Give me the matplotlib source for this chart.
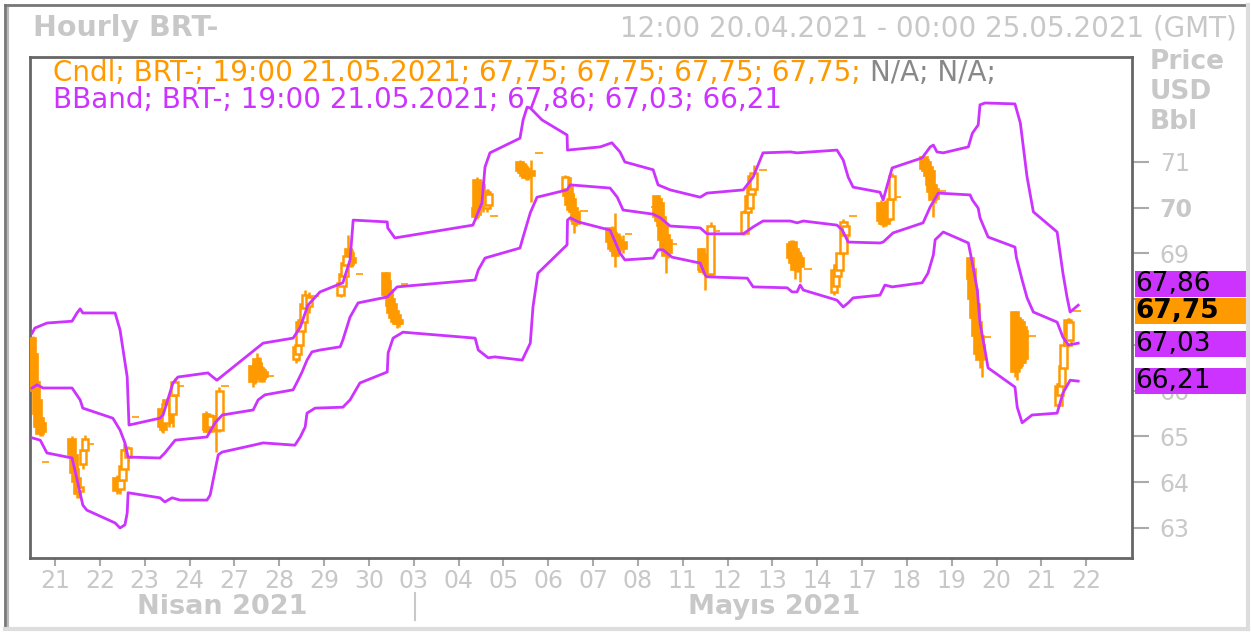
import numpy as np
import matplotlib.pyplot as plt
import matplotlib.transforms as mtransforms
from matplotlib.lines import Line2D

# ---- axis labels -------------------------------------------------------
day_labels = ['21', '22', '23', '24', '27', '28', '29', '30', '03', '04', '05', '06',
              '07', '08', '11', '12', '13', '14', '17', '18', '19', '20', '21', '22']
y_ticks = [63, 64, 65, 66, 67, 68, 69, 70, 71]
y_ticklabels = ['63', '64', '65', '66', '', '', '69', '70', '71']  # 67, 68 hidden under the boxes

# ---- hourly candles (day index, hour, O, H, L, C) ----------------------
c_day = ([-1] * 7 + [0] * 8 + [1] * 8 + [2] * 8 + [3] * 8 + [4] * 8 + [5] * 8 + [6] * 8 + [7] * 9
         + [9] * 8 + [10] * 7 + [11] * 8 + [12] * 8 + [13] * 9 + [14] * 6 + [15] * 6 + [16] * 7
         + [17] * 7 + [18] * 7 + [19] * 8 + [20] * 8 + [21] * 7 + [22] * 7)
c_hour = [12, 13, 14, 15, 16, 17, 19,
          9, 10, 11, 12, 13, 15, 16, 19,
          9, 10, 11, 12, 13, 14, 15, 19,
          9, 10, 11, 12, 13, 15, 16, 19,
          9, 10, 11, 12, 13, 14, 16, 19,
          10, 11, 12, 13, 14, 15, 16, 19,
          9, 10, 11, 12, 13, 14, 16, 19,
          9, 10, 11, 12, 13, 14, 15, 19,
          9, 10, 11, 12, 13, 14, 15, 16, 19,
          9, 10, 11, 12, 13, 15, 16, 19,
          9, 10, 11, 12, 13, 15, 19,
          9, 10, 11, 12, 13, 14, 15, 19,
          9, 10, 11, 12, 13, 14, 16, 19,
          9, 10, 11, 12, 13, 14, 15, 16, 19,
          10, 11, 12, 14, 15, 18,
          9, 11, 12, 13, 14, 19,
          10, 11, 12, 13, 14, 15, 19,
          9, 10, 11, 12, 14, 15, 19,
          10, 11, 12, 13, 15, 16, 19,
          9, 10, 11, 12, 13, 14, 15, 19,
          10, 11, 12, 13, 14, 15, 16, 19,
          10, 11, 12, 13, 14, 15, 19,
          9, 10, 11, 12, 14, 15, 19]
c_open = [67.15, 66.80, 66.20, 65.80, 65.40, 65.30, 64.44,
          64.95, 64.60, 64.30, 64.10, 63.80, 64.40, 64.70, 64.84,
          64.10, 63.95, 63.85, 64.05, 64.30, 64.70, 64.55, 65.43,
          65.60, 65.50, 65.30, 65.80, 65.50, 65.50, 65.90, 66.10,
          65.50, 65.40, 65.20, 65.45, 65.30, 65.25, 65.14, 66.10,
          66.55, 66.50, 66.70, 66.60, 66.50, 66.45, 66.40, 66.32,
          66.70, 66.80, 67.00, 67.30, 67.50, 67.80, 67.85, 68.07,
          68.10, 68.30, 68.50, 68.75, 69.10, 69.00, 68.90, 68.55,
          68.57, 68.40, 68.20, 68.00, 67.90, 67.75, 67.65, 67.55, 68.33,
          70.00, 70.60, 70.55, 70.50, 70.30, 70.00, 70.05, 69.82,
          71.00, 70.95, 70.90, 70.85, 70.80, 70.80, 71.20,
          70.40, 70.65, 70.45, 70.30, 70.20, 70.00, 69.90, 69.93,
          69.55, 69.50, 69.45, 69.40, 69.35, 69.30, 69.25, 69.43,
          70.02, 70.25, 70.20, 70.10, 69.80, 69.60, 69.40, 69.30, 69.21,
          69.10, 68.95, 68.90, 68.60, 68.55, 69.49,
          69.45, 69.90, 70.00, 70.30, 70.40, 70.83,
          69.20, 69.25, 69.10, 69.00, 68.95, 68.90, 68.66,
          68.16, 68.30, 68.50, 68.65, 69.00, 69.40, 69.82,
          70.10, 70.00, 70.10, 69.95, 69.75, 70.20, 70.23,
          71.10, 71.05, 71.00, 70.90, 70.80, 70.50, 70.40, 70.37,
          68.90, 68.66, 68.20, 67.90, 67.50, 67.20, 67.00, 67.17,
          67.72, 67.60, 67.55, 67.50, 67.40, 67.30, 67.20,
          65.69, 65.90, 66.10, 66.50, 67.00, 67.10, 67.75]
c_high = [67.20, 66.85, 66.30, 65.90, 65.50, 65.35, 64.44,
          65.00, 64.70, 64.45, 64.20, 64.00, 64.80, 65.03, 64.84,
          64.15, 64.05, 64.10, 64.40, 64.86, 64.80, 64.80, 65.43,
          65.65, 65.55, 65.80, 65.85, 65.60, 66.00, 66.28, 66.10,
          65.55, 65.45, 65.50, 65.50, 65.35, 65.30, 66.08, 66.10,
          66.60, 66.65, 66.83, 66.74, 66.60, 66.55, 66.50, 66.32,
          67.00, 67.10, 67.60, 67.60, 68.00, 68.20, 68.15, 68.07,
          68.40, 68.60, 68.85, 69.00, 69.40, 69.15, 69.10, 68.55,
          68.60, 68.45, 68.30, 68.10, 68.00, 67.80, 67.70, 67.60, 68.33,
          70.10, 70.67, 70.60, 70.60, 70.45, 70.40, 70.40, 69.82,
          71.05, 71.00, 70.95, 70.95, 70.90, 71.04, 71.20,
          70.72, 70.70, 70.55, 70.40, 70.30, 70.10, 69.95, 69.93,
          69.58, 69.60, 69.55, 69.89, 69.45, 69.45, 69.40, 69.43,
          70.02, 70.28, 70.25, 70.20, 69.90, 69.70, 69.50, 69.40, 69.21,
          69.12, 69.00, 69.00, 69.00, 69.69, 69.49,
          69.95, 70.30, 70.50, 70.76, 70.93, 70.83,
          69.30, 69.30, 69.20, 69.10, 69.05, 69.00, 68.66,
          68.70, 68.70, 68.80, 69.05, 69.75, 69.70, 69.82,
          70.17, 70.10, 70.17, 70.05, 70.25, 70.76, 70.23,
          71.12, 71.10, 71.05, 70.95, 70.85, 70.60, 70.50, 70.37,
          68.92, 68.70, 68.30, 68.00, 67.60, 67.30, 67.10, 67.17,
          67.75, 67.70, 67.60, 67.55, 67.50, 67.40, 67.20,
          66.17, 66.20, 66.60, 67.10, 67.60, 67.60, 67.75]
c_low = [66.05, 65.90, 65.40, 65.15, 65.00, 65.00, 64.44,
         64.50, 64.10, 63.90, 63.66, 63.66, 64.30, 64.60, 64.84,
         63.75, 63.77, 63.75, 63.95, 64.20, 64.40, 64.45, 65.43,
         65.10, 65.08, 65.20, 65.40, 65.20, 65.20, 65.80, 66.10,
         65.10, 65.08, 65.10, 65.10, 65.10, 64.66, 65.10, 66.10,
         66.08, 66.15, 66.25, 66.20, 66.20, 66.19, 66.20, 66.32,
         66.60, 66.65, 66.90, 67.10, 67.40, 67.60, 67.70, 68.07,
         68.05, 68.25, 68.40, 68.60, 68.75, 68.70, 68.70, 68.55,
         68.00, 67.95, 67.80, 67.60, 67.55, 67.45, 67.37, 67.40, 68.33,
         69.73, 69.75, 69.90, 69.95, 69.90, 69.90, 70.00, 69.82,
         70.75, 70.70, 70.65, 70.60, 70.60, 70.13, 71.20,
         70.35, 70.20, 70.00, 69.90, 69.80, 69.45, 69.60, 69.93,
         69.20, 69.00, 69.00, 68.70, 69.00, 69.10, 69.00, 69.43,
         70.02, 69.70, 69.60, 69.50, 69.20, 69.00, 68.57, 68.90, 69.21,
         68.60, 68.55, 68.20, 68.50, 68.49, 69.49,
         69.40, 69.85, 69.95, 70.25, 70.30, 70.83,
         68.80, 68.70, 68.45, 68.60, 68.60, 68.38, 68.66,
         68.10, 68.20, 68.40, 68.60, 68.95, 69.30, 69.82,
         69.62, 69.58, 69.60, 69.60, 69.70, 70.15, 70.23,
         70.80, 70.75, 70.60, 70.40, 70.25, 69.80, 70.10, 70.37,
         68.40, 67.90, 67.50, 67.10, 66.70, 66.50, 66.30, 67.17,
         66.30, 66.23, 66.40, 66.50, 66.60, 66.60, 67.20,
         65.65, 65.80, 66.00, 66.40, 66.95, 67.04, 67.75]
c_close = [66.10, 66.00, 65.50, 65.20, 65.05, 65.10, 64.44,
           64.60, 64.20, 64.00, 63.75, 63.90, 64.70, 64.95, 64.84,
           63.80, 63.85, 64.05, 64.35, 64.70, 64.55, 64.75, 65.43,
           65.20, 65.15, 65.70, 65.50, 65.30, 65.90, 66.20, 66.10,
           65.15, 65.10, 65.45, 65.15, 65.15, 65.14, 66.00, 66.10,
           66.20, 66.30, 66.35, 66.30, 66.25, 66.25, 66.30, 66.32,
           66.95, 67.00, 67.50, 67.55, 67.90, 68.10, 68.05, 68.07,
           68.35, 68.55, 68.80, 68.95, 68.80, 68.75, 68.80, 68.55,
           68.10, 68.05, 67.85, 67.70, 67.60, 67.50, 67.45, 67.45, 68.33,
           69.80, 69.85, 70.00, 70.05, 70.00, 70.35, 70.30, 69.82,
           70.80, 70.75, 70.70, 70.65, 70.70, 70.70, 71.20,
           70.67, 70.25, 70.05, 69.95, 69.90, 69.70, 69.65, 69.93,
           69.25, 69.10, 69.05, 68.95, 69.05, 69.15, 69.10, 69.43,
           70.02, 69.80, 69.70, 69.60, 69.30, 69.10, 68.95, 69.00, 69.21,
           68.65, 68.60, 68.60, 68.90, 69.60, 69.49,
           69.90, 70.25, 70.45, 70.70, 70.76, 70.83,
           68.90, 68.80, 68.65, 68.70, 68.75, 68.70, 68.66,
           68.65, 68.60, 68.75, 69.00, 69.69, 69.60, 69.82,
           69.70, 69.65, 69.70, 69.65, 70.20, 70.70, 70.23,
           70.85, 70.80, 70.70, 70.50, 70.35, 70.17, 70.20, 70.37,
           68.45, 68.00, 67.60, 67.20, 66.80, 66.67, 66.70, 67.17,
           66.40, 66.50, 66.55, 66.60, 66.80, 66.70, 67.20,
           66.10, 66.15, 66.55, 67.00, 67.55, 67.50, 67.75]

# ---- Bollinger bands (time in days, price) -----------------------------
up_t = [-0.51, -0.45, -0.18, 0.38, 0.49, 0.56, 0.62, 1.34, 1.45, 1.61, 1.65, 2.34, 2.41, 2.63,
        2.74, 3.41, 3.52, 3.61, 4.64, 5.31, 5.47, 5.64, 5.91, 6.42, 6.58, 6.65, 7.41, 7.42,
        7.58, 9.32, 9.52, 9.59, 9.70, 10.37, 10.44, 10.53, 10.60, 10.86, 11.42, 11.43, 12.16,
        12.42, 12.60, 12.71, 13.34, 13.45, 13.72, 14.39, 14.54, 15.35, 15.57, 15.79, 16.40,
        16.55, 17.44, 17.58, 17.69, 17.80, 18.40, 18.47, 18.67, 19.34, 19.52, 19.59, 19.67,
        19.81, 20.37, 20.46, 20.59, 20.63, 20.74, 21.41, 21.53, 21.68, 21.82, 22.35, 22.48,
        22.57, 22.64, 22.82]
up_v = [67.26, 67.37, 67.48, 67.52, 67.70, 67.79, 67.70, 67.70, 67.33, 66.30, 65.25, 65.40,
        65.47, 66.17, 66.30, 66.39, 66.30, 66.23, 67.04, 67.15, 67.39, 67.87, 68.16, 68.36,
        68.86, 69.73, 69.69, 69.56, 69.34, 69.62, 70.10, 70.89, 71.20, 71.52, 71.92, 72.20,
        72.18, 71.92, 71.59, 71.26, 71.33, 71.42, 71.22, 71.00, 70.83, 70.50, 70.39, 70.23,
        70.32, 70.39, 70.67, 71.20, 71.22, 71.20, 71.26, 71.04, 70.67, 70.45, 70.34, 70.17,
        70.87, 71.09, 71.33, 71.37, 71.22, 71.20, 71.33, 71.63, 71.81, 72.25, 72.29, 72.27,
        71.85, 70.67, 69.91, 69.47, 68.57, 68.05, 67.72, 67.87]
mid_t = [-0.51, -0.40, -0.27, 0.38, 0.56, 0.62, 1.29, 1.45, 1.56, 1.63, 2.34, 2.45, 2.68,
         3.39, 3.57, 3.73, 4.42, 4.53, 4.68, 5.31, 5.42, 5.51, 5.62, 5.73, 5.91, 6.36, 6.42,
         6.58, 6.76, 7.41, 7.63, 9.37, 9.44, 9.59, 10.37, 10.44, 10.60, 10.75, 11.42, 11.49,
         12.38, 12.54, 12.67, 13.34, 13.50, 13.72, 14.39, 14.54, 15.35, 15.57, 15.79, 16.40,
         16.55, 16.69, 17.44, 17.56, 17.69, 18.40, 18.47, 18.69, 19.36, 19.52, 19.70, 20.41,
         20.46, 20.59, 20.63, 20.81, 21.41, 21.44, 21.57, 21.68, 21.82, 22.35, 22.48, 22.60,
         22.82]
mid_v = [66.06, 66.13, 66.06, 66.06, 65.80, 65.62, 65.40, 65.14, 64.86, 64.55, 64.53, 64.64,
         64.92, 64.99, 65.30, 65.47, 65.58, 65.80, 65.91, 66.02, 66.23, 66.41, 66.67, 66.85,
         66.89, 66.96, 67.11, 67.61, 67.92, 68.05, 68.27, 68.42, 68.64, 68.90, 69.12, 69.36,
         69.89, 70.23, 70.39, 70.50, 70.43, 70.23, 69.95, 69.86, 69.78, 69.60, 69.56, 69.43,
         69.43, 69.58, 69.71, 69.71, 69.67, 69.71, 69.62, 69.51, 69.25, 69.23, 69.25, 69.45,
         69.67, 70.02, 70.32, 70.28, 70.17, 69.99, 69.78, 69.36, 69.14, 68.92, 68.42, 68.03,
         67.72, 67.50, 67.17, 67.00, 67.04]
low_t = [-0.51, -0.33, -0.18, 0.38, 0.51, 0.62, 0.71, 1.34, 1.45, 1.56, 1.61, 1.63, 2.34,
         2.45, 2.61, 2.79, 3.39, 3.46, 3.64, 3.73, 4.42, 4.64, 5.35, 5.47, 5.58, 5.62, 5.80,
         6.42, 6.58, 6.80, 7.41, 7.43, 7.54, 7.76, 9.37, 9.44, 9.66, 9.81, 10.42, 10.60,
         10.66, 10.77, 11.42, 11.43, 11.49, 11.67, 12.38, 12.60, 12.71, 13.34, 13.45, 13.56,
         13.76, 14.39, 14.50, 14.54, 15.44, 15.57, 16.33, 16.44, 16.55, 16.62, 16.69, 17.44,
         17.58, 17.69, 17.80, 18.40, 18.51, 18.67, 19.34, 19.47, 19.59, 19.63, 19.81, 20.37,
         20.46, 20.57, 20.63, 20.74, 20.81, 21.41, 21.46, 21.57, 21.79, 22.35, 22.48, 22.64,
         22.82]
low_v = [64.97, 64.92, 64.64, 64.53, 63.98, 63.50, 63.39, 63.11, 63.00, 63.07, 63.33, 63.77,
         63.66, 63.57, 63.66, 63.61, 63.61, 63.72, 64.60, 64.66, 64.81, 64.86, 64.81, 64.99,
         65.21, 65.51, 65.62, 65.64, 65.80, 66.17, 66.41, 66.83, 67.15, 67.28, 67.15, 66.89,
         66.72, 66.74, 66.67, 67.04, 67.83, 68.57, 69.19, 69.73, 69.78, 69.69, 69.51, 69.01,
         68.86, 68.90, 69.08, 69.08, 68.92, 68.79, 68.53, 68.49, 68.46, 68.27, 68.25, 68.16,
         68.16, 68.31, 68.20, 67.98, 67.83, 67.92, 68.03, 68.09, 68.31, 68.27, 68.36, 68.57,
         68.97, 69.30, 69.47, 69.23, 68.79, 68.20, 67.48, 66.89, 66.50, 66.08, 65.64, 65.30,
         65.47, 65.51, 65.95, 66.23, 66.21]

last_close = 67.75
band_last = [67.86, 67.03, 66.21]

ORANGE = '#ff9900'
PURPLE = '#cc33ff'
GREY = '#c8c8c8'

W, H = 1251, 632
fig = plt.figure(figsize=(W / 100, H / 100), dpi=100)


def fx(px):
    return px / W


def fy(py):
    return 1 - py / H


ax = fig.add_axes([fx(30), fy(558), fx(1132) - fx(30), fy(57) - fy(558)])
ax.set_xlim(-0.558, 24.02)
ax.set_ylim(62.344, 73.295)

# candles
t = np.array(c_day) + np.array(c_hour) / 24.0
o = np.array(c_open)
c = np.array(c_close)
hi = np.array(c_high)
lo = np.array(c_low)
up = c > o
ax.vlines(t, lo, hi, color=ORANGE, lw=1.8, zorder=2)
ax.bar(t[~up], (o - c)[~up], bottom=c[~up], width=0.17, color=ORANGE,
       edgecolor=ORANGE, lw=1.2, zorder=3)
ax.bar(t[up], (c - o)[up], bottom=o[up], width=0.15, facecolor='white',
       edgecolor=ORANGE, lw=1.8, zorder=3)

# bands
for bt, bv in [(up_t, up_v), (mid_t, mid_v), (low_t, low_v)]:
    ax.plot(bt, bv, color=PURPLE, lw=2.0, zorder=5)

for s in ax.spines.values():
    s.set_color('#666666')
    s.set_linewidth(2)

ax.set_xticks(range(len(day_labels)))
ax.set_xticklabels(day_labels)
ax.yaxis.tick_right()
ax.set_yticks(y_ticks)
ax.set_yticklabels(y_ticklabels)
ax.tick_params(axis='x', colors='#aaaaaa', labelcolor=GREY, labelsize=17, length=6, width=1.5, pad=2)
ax.tick_params(axis='y', colors='#aaaaaa', labelcolor=GREY, labelsize=17, length=12, width=1.5, pad=8)
for lab in ax.get_yticklabels():
    if lab.get_text() == '70':
        lab.set_fontweight('bold')

# value boxes on the right
tr = mtransforms.blended_transform_factory(fig.transFigure, ax.transData)
box_h = 26 / 45.75
vals = [(band_last[0], PURPLE, False), (last_close, ORANGE, True),
        (band_last[1], PURPLE, False), (band_last[2], PURPLE, False)]
ys = [max(band_last[0], last_close + box_h + 0.02), last_close,
      min(band_last[1], last_close - box_h - 0.02), band_last[2]]
for (v, col, bold), yc in zip(vals, ys):
    ax.add_patch(plt.Rectangle((fx(1135), yc - box_h / 2), fx(1247) - fx(1135), box_h,
                               transform=tr, facecolor=col, edgecolor='none',
                               clip_on=False, zorder=10))
    ax.text(fx(1135), yc, f'{v:.2f}'.replace('.', ','), transform=tr, ha='left', va='center',
            fontsize=19, color='black', fontweight='bold' if bold else 'normal',
            clip_on=False, zorder=11)

# texts
fig.text(fx(33), fy(28), 'Hourly BRT-', color=GREY, fontsize=20.5, fontweight='bold', va='center')
fig.text(fx(1237), fy(28), '12:00 20.04.2021 - 00:00 25.05.2021 (GMT)', color=GREY,
         fontsize=20, ha='right', va='center')
for i, s in enumerate(['Price', 'USD', 'Bbl']):
    fig.text(fx(1150), fy(62 + 30 * i), s, color=GREY, fontsize=19, fontweight='bold', va='center')

cndl_a = 'Cndl; BRT-; 19:00 21.05.2021; 67,75; 67,75; 67,75; 67,75; '
t1 = fig.text(fx(53), fy(73), cndl_a, color=ORANGE, fontsize=20, va='center')
fig.canvas.draw()
bb = t1.get_window_extent()
fig.text(bb.x1 / W, fy(73), 'N/A; N/A;', color='#888888', fontsize=20, va='center')
fig.text(fx(53), fy(100), 'BBand; BRT-; 19:00 21.05.2021; 67,86; 67,03; 66,21', color=PURPLE,
         fontsize=20, va='center')

fig.text(fx(222), fy(607), 'Nisan 2021', color=GREY, fontsize=19.5, fontweight='bold',
         ha='center', va='center')
fig.text(fx(774), fy(607), 'Mayıs 2021', color=GREY, fontsize=19.5, fontweight='bold',
         ha='center', va='center')
fig.add_artist(Line2D([fx(415), fx(415)], [fy(593), fy(620)], color=GREY, lw=1.5))

# outer frame
fig.add_artist(Line2D([fx(5), fx(5)], [fy(5), fy(629)], color='#777777', lw=2))
fig.add_artist(Line2D([fx(5), fx(1248)], [fy(5), fy(5)], color='#777777', lw=2))
fig.add_artist(Line2D([fx(8), fx(8)], [fy(8), fy(629)], color='#bbbbbb', lw=1.5))
fig.add_artist(Line2D([fx(1248), fx(1248)], [fy(5), fy(629)], color='#dddddd', lw=3))
fig.add_artist(Line2D([fx(5), fx(1248)], [fy(629), fy(629)], color='#dddddd', lw=3))

fig.savefig('out.png', dpi=100)
